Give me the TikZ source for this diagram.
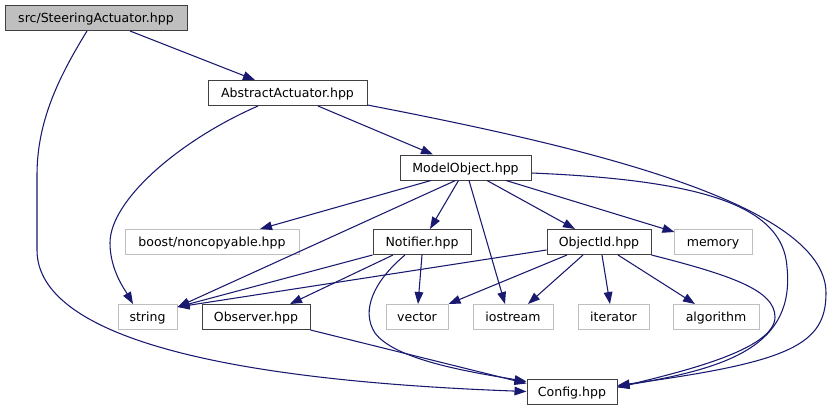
\documentclass[tikz,border=0pt]{standalone}
\usepackage{fontspec}
\setmainfont{DejaVu Sans}
\usetikzlibrary{arrows.meta}
\definecolor{edgeblue}{HTML}{191970}
\definecolor{framegray}{HTML}{404040}
\definecolor{sysgray}{HTML}{BFBFBF}

\begin{document}
\begin{tikzpicture}[
x=0.75pt, y=-0.75pt,
file/.style={draw=framegray, line width=0.75pt, fill=white, minimum height=18.75pt, inner sep=0pt, text height=7pt, text depth=0pt, font=\fontsize{9.4}{11}\selectfont},
root/.style={file, fill=sysgray},
sys/.style={file, draw=sysgray},
wd/.style={minimum width=#1*0.75pt},
arrow/.style={-{Triangle[length=9pt,width=6.5pt]}, draw=edgeblue, line width=0.8pt} ]

\useasboundingbox (0,0) rectangle (831,411);

\node[root, wd=182](SA) at (96,18) {src/SteeringActuator.hpp};

\node[file, wd=159](AA) at (287.5,93) {AbstractActuator.hpp};

\node[file, wd=131](MO) at (465.5,167.5) {ModelObject.hpp};

\node[sys, wd=174](NC) at (212,242) {boost/noncopyable.hpp};

\node[file, wd=98](NT) at (422,242) {Notifier.hpp};

\node[file, wd=104](OI) at (599,242) {ObjectId.hpp};

\node[sys, wd=78](ME) at (713,242) {memory};

\node[sys, wd=59](ST) at (147.5,317) {string};

\node[file, wd=108](OB) at (256,317) {Observer.hpp};

\node[sys, wd=62](VE) at (417,317) {vector};

\node[sys, wd=80](IO) at (513,317) {iostream};

\node[sys, wd=71](IT) at (613.5,317) {iterator};

\node[sys, wd=86](AL) at (716,317) {algorithm};

\node[file, wd=90](CF) at (572,391.5) {Config.hpp};

\draw[arrow] ([shift={(34,0)}]SA.south) -- ([shift={(-32.5,0)}]AA.north);

\draw[arrow] ([shift={(-9,0)}]SA.south) .. controls (60,75) and (37,120) .. (37,175) -- (37,250) .. controls (37,320) and (160,378) .. (CF.west);

\draw[arrow] ([shift={(-29.5,0)}]AA.south) .. controls (180,140) and (110,200) .. (110,243) .. controls (110,270) and (125,290) .. ([shift={(-14.5,0)}]ST.north);

\draw[arrow] ([shift={(30.5,0)}]AA.south) -- ([shift={(-32.5,0)}]MO.north);

\draw[arrow] ([shift={(0,-1)}]AA.south east) .. controls (563,143) and (826,200) .. (826,293) .. controls (826,345) and (790,362) .. ([shift={(0,-6)}]CF.east);

\draw[arrow] ([shift={(-34.5,0)}]MO.south) -- ([shift={(48,0)}]NC.north);

\draw[arrow] ([shift={(-10,0)}]MO.south) -- ([shift={(0,-10)}]ST.east);

\draw[arrow] ([shift={(-7,0)}]MO.south) -- ([shift={(8,0)}]NT.north);

\draw[arrow] ([shift={(3.5,0)}]MO.south) -- ([shift={(-8,0)}]IO.north);

\draw[arrow] ([shift={(21.5,0)}]MO.south) -- ([shift={(-24,0)}]OI.north);

\draw[arrow] ([shift={(40.5,0)}]MO.south) -- ([shift={(1,3)}]ME.north west);

\draw[arrow] ([shift={(0,5.5)}]MO.east) .. controls (700,180) and (783,205) .. (787,267) .. controls (795,345) and (730,368) .. ([shift={(0,-5)}]CF.east);

\draw[arrow] (NT.south west) -- ([shift={(0,-10)}]ST.east);

\draw[arrow] ([shift={(-29,0)}]NT.south) -- ([shift={(34,0)}]OB.north);

\draw[arrow] (NT.south) -- ([shift={(1,0)}]VE.north);

\draw[arrow] ([shift={(-17,0)}]NT.south) .. controls (375,280) and (360,310) .. (375,333) .. controls (395,360) and (470,372) .. ([shift={(0,-10)}]CF.west);

\draw[arrow] ([shift={(0,8)}]OI.west) -- ([shift={(0,-10)}]ST.east);

\draw[arrow] ([shift={(-32,0)}]OI.south) -- (VE.north east);

\draw[arrow] ([shift={(-16,0)}]OI.south) -- ([shift={(15,0)}]IO.north);

\draw[arrow] ([shift={(3,0)}]OI.south) -- ([shift={(-3.5,0)}]IT.north);

\draw[arrow] ([shift={(19,0)}]OI.south) -- ([shift={(-21,0)}]AL.north);

\draw[arrow] (OI.south east) .. controls (730,275) and (775,290) .. (775,317) .. controls (775,350) and (680,372) .. ([shift={(0,-4)}]CF.east);

\draw[arrow] (OB.south east) -- ([shift={(0,-8)}]CF.west);
\end{tikzpicture}
\end{document}
